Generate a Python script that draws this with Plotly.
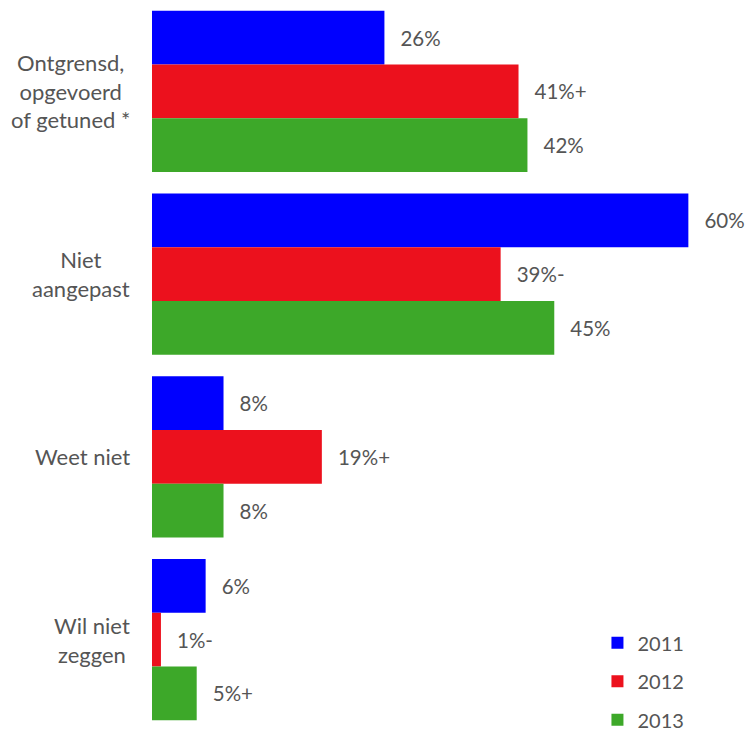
import plotly.graph_objects as go

# Survey answers (top to bottom) and yearly shares in percent
categories = ["Ontgrensd,<br>opgevoerd<br>of getuned *", "Niet<br>aangepast", "Weet niet", "Wil niet<br>zeggen"]
years = ["2011", "2012", "2013"]
values_2011 = [26, 60, 8, 6]
values_2012 = [41, 39, 19, 1]
values_2013 = [42, 45, 8, 5]
# significance markers appended to the value labels
marks_2011 = ["", "", "", ""]
marks_2012 = ["+", "-", "+", "-"]
marks_2013 = ["", "", "", "+"]

colors = ["#0000FF", "#EC111D", "#3DA829"]
font_family = "Lato, 'Open Sans', sans-serif"
text_gray = "#555555"

series = [
    (years[0], values_2011, marks_2011, colors[0]),
    (years[1], values_2012, marks_2012, colors[1]),
    (years[2], values_2013, marks_2013, colors[2]),
]

fig = go.Figure()
for i, (name, vals, marks, col) in enumerate(series):
    labels = ["\u00a0\u00a0\u2009%d%%%s" % (v, m) for v, m in zip(vals, marks)]
    fig.add_trace(go.Bar(
        x=vals,
        y=categories,
        orientation="h",
        name=name,
        legendgroup=name,
        marker=dict(color=col, line=dict(width=0)),
        text=labels,
        textposition="outside",
        cliponaxis=False,
        textfont=dict(family=font_family, size=20.5, color=text_gray),
        hoverinfo="skip",
    ))

# Category names, centred line by line, placed left of the bars
for cat in categories:
    fig.add_annotation(
        x=0, xref="paper", y=cat, yref="y",
        text=cat, showarrow=False,
        xanchor="right", yanchor="middle", align="center",
        xshift=-20,
        font=dict(family=font_family, size=22, color=text_gray),
    )

fig.update_layout(
    width=747, height=731,
    margin=dict(l=152, r=5, t=0, b=0, autoexpand=False),
    paper_bgcolor="white", plot_bgcolor="white",
    barmode="group", bargap=0.119, bargroupgap=0,
    showlegend=True,
    legend=dict(
        x=0.755, xanchor="left", y=0.1473, yanchor="top",
        traceorder="grouped", tracegroupgap=9.5,
        font=dict(family=font_family, size=20, color=text_gray),
        bgcolor="rgba(0,0,0,0)",
    ),
    xaxis=dict(range=[0, 66], visible=False),
    yaxis=dict(autorange="reversed", showticklabels=False, showgrid=False,
               zeroline=False, showline=False, ticks=""),
)

fig.write_html("out.html")
